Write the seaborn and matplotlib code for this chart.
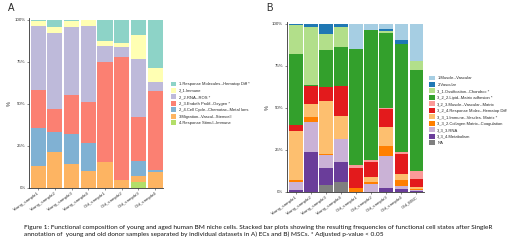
import numpy as np
import pandas as pd
import matplotlib
matplotlib.use("Agg")
import matplotlib.pyplot as plt
from matplotlib.patches import Patch
import seaborn as sns

# ---------------- data ----------------
samples_a = ["Young_sample1", "Young_sample2", "Young_sample3", "Young_sample4",
             "Old_sample1", "Old_sample2", "Old_sample3", "Old_sample4"]
cats_a = ["1.Response Molecules--Hematop Diff *", "2_1.Immune", "2_2.RNA--ROS *",
          "2_3.Endoth Prolif--Oxygen *", "2_4.Cell Cycle--Chemotax--Metal Ions",
          "3.Migration--Vascul--Stemcell", "4.Response Stimul--Immune"]
colors_a = ["#8dd3c7", "#ffffb3", "#bebada", "#fb8072", "#80b1d3", "#fdb462", "#b3de69"]
# rows = samples, columns = categories (legend order)
vals_a = [
    [1.0, 3.0, 38.0, 22.7, 22.6, 12.7, 0.0],
    [4.5, 3.6, 45.2, 13.6, 12.0, 21.1, 0.0],
    [1.0, 3.5, 40.4, 23.4, 17.5, 14.2, 0.0],
    [0.4, 3.1, 45.3, 24.4, 16.8, 10.0, 0.0],
    [12.8, 2.6, 9.8, 59.8, 0.0, 15.0, 0.0],
    [13.6, 2.7, 5.9, 73.3, 0.0, 4.5, 0.0],
    [8.9, 14.7, 34.1, 26.4, 8.8, 4.0, 3.1],
    [28.5, 8.7, 5.3, 47.1, 1.1, 9.3, 0.0],
]

samples_b = ["Young_sample1", "Young_sample2", "Young_sample3", "Young_sample4",
             "Old_sample1", "Old_sample2", "Old_sample3", "Old_sample4", "Old_MSC"]
cats_b = ["1.Muscle--Vascular", "2.Vascular", "3_1.Ossification--Chondroc *",
          "3_2_2.Lipid--Matrix adhesion *", "3_2_3.Muscle--Vascular--Matrix",
          "3_2_4.Response Molec--Hematop Diff", "3_3_1.Immune--Vescles. Matrix *",
          "3_3_2.Collagen Matrix--Coagulation", "3_3_3.RNA", "3_3_4.Metabolism", "NA"]
colors_b = ["#a6cee3", "#1f78b4", "#b2df8a", "#33a02c", "#fb9a99", "#e31a1c",
            "#fdbf6f", "#ff7f00", "#cab2d6", "#6a3d9a", "#7f7f7f"]
vals_b = [
    [0.0, 1.0, 16.9, 42.7, 0.0, 3.4, 29.1, 1.0, 5.1, 0.8, 0.0],
    [0.0, 2.2, 34.2, 0.6, 0.0, 10.8, 7.7, 2.8, 18.3, 23.4, 0.0],
    [0.0, 5.9, 10.0, 21.9, 0.0, 8.1, 31.6, 0.5, 8.0, 10.1, 3.9],
    [0.0, 2.0, 11.8, 23.4, 0.0, 17.7, 13.6, 0.0, 14.0, 11.8, 5.7],
    [15.0, 0.0, 0.0, 69.3, 1.3, 12.0, 0.0, 2.4, 0.0, 0.0, 0.0],
    [3.5, 0.0, 0.0, 77.8, 1.0, 8.8, 3.2, 1.0, 4.7, 0.0, 0.0],
    [3.0, 1.1, 1.4, 44.4, 1.0, 10.8, 11.4, 5.6, 18.9, 2.4, 0.0],
    [9.8, 2.6, 0.0, 64.0, 1.0, 12.2, 3.5, 3.4, 2.1, 1.4, 0.0],
    [22.2, 0.0, 5.3, 60.2, 4.7, 4.9, 0.8, 0.8, 0.6, 0.5, 0.0],
]

ytick_vals = [0, 25, 50, 75, 100]
ytick_labels = ["0%", "25%", "50%", "75%", "100%"]

caption = ("Figure 1: Functional composition of young and aged human BM niche cells. Stacked bar plots "
           "showing the resulting frequencies of functional cell states after SingleR\n"
           "annotation of  young and old donor samples separated by individual datasets in A) ECs "
           "and B) MSCs. * Adjusted p-value < 0.05")

# ---------------- figure ----------------
sns.set_style("white")
plt.rcParams["font.family"] = ["Liberation Sans", "DejaVu Sans"]

W, H = 520, 248
fig = plt.figure(figsize=(W / 100, H / 100), dpi=100)


def px_axes(x0, x1, ytop, ybot):
    return fig.add_axes([x0 / W, (H - ybot) / H, (x1 - x0) / W, (ybot - ytop) / H])


def long_df(samples, cats, vals):
    rows = []
    for s, row in zip(samples, vals):
        for c, v in zip(cats, row):
            rows.append((s, c, v))
    df = pd.DataFrame(rows, columns=["sample", "cat", "val"])
    df["sample"] = pd.Categorical(df["sample"], categories=samples, ordered=True)
    return df


def draw_panel(ax, samples, cats, vals, colors, xlim):
    df = long_df(samples, cats, vals)
    df["pos"] = df["sample"].cat.codes
    sns.histplot(data=df, x="pos", hue="cat", weights="val", hue_order=cats,
                 palette=colors, multiple="stack", discrete=True, shrink=0.9,
                 alpha=1, linewidth=0, legend=False, ax=ax)
    ax.set_xlim(*xlim)
    ax.set_ylim(0, 100.8)
    ax.set_xticks(range(len(samples)))
    ax.set_xticklabels(samples, rotation=35, ha="right", rotation_mode="anchor",
                       fontsize=3.2, color="#333333")
    ax.set_yticks(ytick_vals)
    ax.set_yticklabels(ytick_labels, fontsize=3.2, color="#333333")
    ax.set_xlabel("")
    ax.set_ylabel("%", fontsize=4, color="#333333", labelpad=2)
    for side in ("top", "right"):
        ax.spines[side].set_visible(False)
    for side in ("left", "bottom"):
        ax.spines[side].set_linewidth(0.6)
        ax.spines[side].set_color("#333333")
    ax.tick_params(axis="both", length=1.5, width=0.4, pad=1, color="#333333",
                   left=True, bottom=True)
    handles = [Patch(facecolor=c, edgecolor="none", label=l) for c, l in zip(colors, cats)]
    return handles


ax_a = px_axes(29.3, 163.5, 18.3, 187.7)
h_a = draw_panel(ax_a, samples_a, cats_a, vals_a, colors_a, (-0.53, 7.5))
ax_b = px_axes(286.7, 424.0, 22.3, 191.7)
h_b = draw_panel(ax_b, samples_b, cats_b, vals_b, colors_b, (-0.60, 8.5))

leg_kw = dict(loc="upper left", frameon=False, fontsize=3.0, handlelength=1.4,
              handleheight=1.4, labelspacing=0.4, handletextpad=0.6, borderpad=0,
              borderaxespad=0)
fig.legend(handles=h_a, bbox_to_anchor=(170.5 / W, 1 - 81.5 / H), **leg_kw)
fig.legend(handles=h_b, bbox_to_anchor=(429.0 / W, 1 - 75.5 / H), **leg_kw)

fig.text(8 / W, 1 - 3 / H, "A", fontsize=7, va="top", ha="left")
fig.text(266 / W, 1 - 3 / H, "B", fontsize=7, va="top", ha="left")

fig.text(24.5 / W, 1 - 225.5 / H, caption, fontsize=4.68, va="top", ha="left",
         family=["Lato", "DejaVu Sans"], linespacing=1.3, color="#111111")

fig.savefig("out.png", dpi=100)
